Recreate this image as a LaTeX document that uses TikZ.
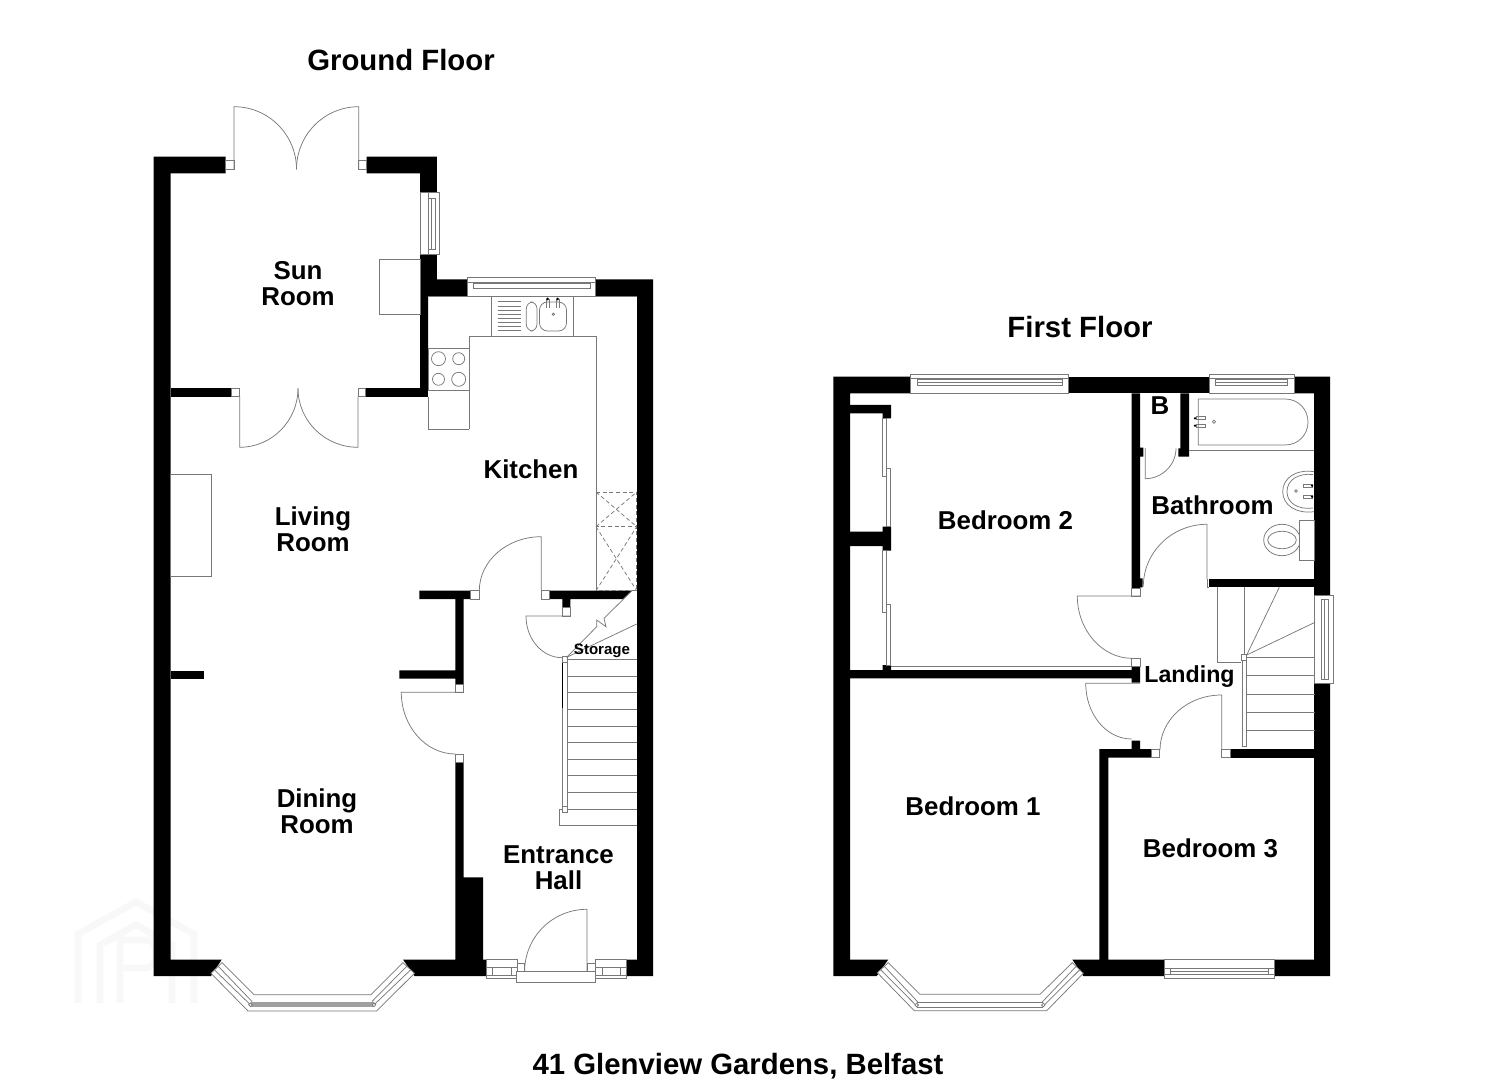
\documentclass[tikz,border=0pt]{standalone}
\usepackage{fontspec}
\setmainfont{Liberation Sans}
\definecolor{fixgray}{RGB}{120,120,120}
\definecolor{markgray}{RGB}{248,248,248}
\tikzset{
  wall/.style={fill=black},
  fitting/.style={draw=fixgray,line width=0.55pt},
  frame/.style={draw=fixgray,line width=0.55pt,fill=white},
  roomlabel/.style={inner sep=0pt,align=center,font=\fontsize{19.4}{19.6}\selectfont\bfseries},
  floorlabel/.style={inner sep=0pt,font=\fontsize{22}{26}\selectfont\bfseries},
  logoline/.style={draw=markgray,line width=5pt}
}
\begin{document}
\begin{tikzpicture}[x=0.75pt,y=0.75pt,yscale=-1,xscale=1]
\path[use as bounding box,fill=white] (0,0) rectangle (1485,1080);

%Watermark
\draw[logoline] (78,1003) -- (78,934) -- (136,902) -- (194,934) -- (194,1003) ;
\draw[logoline] (100,1003) -- (100,945) -- (136,925) -- (172,945) -- (172,1003) ;
\draw[logoline] (120,1003) -- (120,940) -- (145,940) .. controls (160,940) and (160,968) .. (145,968) -- (122,968) ;

%Ground floor walls
\fill[wall] (153.5,156.7) -- (225.5,156.7) -- (225.5,173.3) -- (170.5,173.3) -- (170.5,959.5) -- (221.8,959.5) -- (211,976) -- (153.5,976) -- cycle ;
\fill[wall] (366.5,156.7) -- (436.8,156.7) -- (436.8,192.7) -- (420,192.7) -- (420,173.3) -- (366.5,173.3) -- cycle ;
\fill[wall] (420,254.3) -- (436.8,254.3) -- (436.8,279.3) -- (467,279.3) -- (467,296) -- (428,296) -- (428,388.3) -- (420,388.3) -- cycle ;
\fill[wall] (596,279.3) -- (653,279.3) -- (653,976) -- (626,976) -- (626,959.5) -- (637,959.5) -- (637,296) -- (596,296) -- cycle ;
\fill[wall] (170.5,388.3) -- (231,388.3) -- (231,396.7) -- (170.5,396.7) -- cycle ;
\fill[wall] (365.8,388.3) -- (428,388.3) -- (428,396.7) -- (365.8,396.7) -- cycle ;
\fill[wall] (170.5,671) -- (204,671) -- (204,679) -- (170.5,679) -- cycle ;
\fill[wall] (419.3,590.7) -- (470.7,590.7) -- (470.7,599) -- (463.7,599) -- (463.7,684) -- (455.3,684) -- (455.3,678.7) -- (399.3,678.7) -- (399.3,670.3) -- (455.3,670.3) -- (455.3,599) -- (419.3,599) -- cycle ;
\fill[wall] (549.3,590.7) -- (632,590.7) -- (623,599) -- (570.3,599) -- (570.3,607.7) -- (562.3,607.7) -- (562.3,599) -- (549.3,599) -- cycle ;
\fill[wall] (455.3,762.7) -- (463.7,762.7) -- (463.7,877.3) -- (483,877.3) -- (483,959.5) -- (486.8,959.5) -- (486.8,976) -- (414.5,976) -- (403,959.5) -- (455.3,959.5) -- cycle ;

%First floor walls
\fill[wall] (833.3,376.7) -- (910.7,376.7) -- (910.7,393.3) -- (850,393.3) -- (850,959.5) -- (888.3,959.5) -- (876.7,976) -- (833.3,976) -- cycle ;
\fill[wall] (1068.3,376.7) -- (1209,376.7) -- (1209,393.3) -- (1068.3,393.3) -- cycle ;
\fill[wall] (1294,376.7) -- (1330,376.7) -- (1330,595) -- (1314,595) -- (1314,393.3) -- (1294,393.3) -- cycle ;
\fill[wall] (1314,683.3) -- (1330,683.3) -- (1330,976) -- (1274.3,976) -- (1274.3,959.5) -- (1314,959.5) -- cycle ;
\fill[wall] (850,405) -- (891,405) -- (891,418.3) -- (882.7,418.3) -- (882.7,413.3) -- (850,413.3) -- cycle ;
\fill[wall] (850,531.7) -- (882.7,531.7) -- (882.7,526.7) -- (891,526.7) -- (891,550.7) -- (882.7,550.7) -- (882.7,546) -- (850,546) -- cycle ;
\fill[wall] (882.7,665) -- (891,665) -- (891,670) -- (1131.7,670) -- (1131.7,666.7) -- (1140,666.7) -- (1140,682.7) -- (1131.7,682.7) -- (1131.7,678.3) -- (850,678.3) -- (850,670) -- (882.7,670) -- cycle ;
\fill[wall] (1131.7,393.3) -- (1140,393.3) -- (1140,447.7) -- (1143.3,447.7) -- (1143.3,456.7) -- (1140,456.7) -- (1140,578.3) -- (1142.7,578.3) -- (1142.7,587.3) -- (1140,587.3) -- (1140,588.3) -- (1131.7,588.3) -- cycle ;
\fill[wall] (1180.3,393.3) -- (1189,393.3) -- (1189,456.7) -- (1178.3,456.7) -- (1178.3,448.3) -- (1180.3,448.3) -- cycle ;
\fill[wall] (1209,579) -- (1314,579) -- (1314,587.3) -- (1209,587.3) -- cycle ;
\fill[wall] (1099.3,749) -- (1131.7,749) -- (1131.7,740.7) -- (1140,740.7) -- (1140,749) -- (1151.7,749) -- (1151.7,757.7) -- (1108.3,757.7) -- (1108.3,959.5) -- (1164.3,959.5) -- (1164.3,976) -- (1083.3,976) -- (1072.3,959.5) -- (1099.3,959.5) -- cycle ;
\fill[wall] (1230,749) -- (1314,749) -- (1314,757.7) -- (1230,757.7) -- cycle ;

%Sun room doors and window
\draw[frame] (225.5,160.7) rectangle (234,169.3) ;
\draw[frame] (358.7,160.7) rectangle (366.5,169.3) ;
\draw[fitting] (234,169.3) -- (234,106.7) .. controls (268.5,106.7) and (296.5,134.7) .. (296.5,169.3) ;
\draw[fitting] (358.7,169.3) -- (358.7,106.7) .. controls (324.3,106.7) and (296.5,134.7) .. (296.5,169.3) ;
\draw[frame] (231,388.3) rectangle (239.7,396.7) ;
\draw[frame] (358,388.3) rectangle (365.8,396.7) ;
\draw[fitting] (239.7,396.7) -- (239.7,447.3) .. controls (271.7,447.3) and (298,421) .. (298,388.3) ;
\draw[fitting] (358,396.7) -- (358,447.3) .. controls (325,447.3) and (298,421) .. (298,388.3) ;
\draw[frame] (420,192.7) rectangle (439.8,254.3) ;
\draw[fitting] (428,192.7) -- (428,254.3) ;
\draw[fitting] (428.5,198) rectangle (435,249) ;
\draw[fitting] (431,198) -- (431,249) ;
\draw[fitting] (379,259.3) rectangle (420,314.3) ;

%Kitchen window and units
\draw[frame] (467,277.3) rectangle (595.6,296) ;
\draw[fitting] (467,282) -- (595.6,282) ;
\draw[fitting] (473,283.5) rectangle (590,288.5) ;
\draw[fitting] (428,296) -- (637,296) ;
\draw[fitting] (491,296) rectangle (573.7,336.7) ;
\draw[fitting] (469,429.3) -- (469,336.7) -- (596,336.7) -- (596,590.7) ;
\draw[fitting] (428,348.3) rectangle (469,390) ;
\draw[fitting] (428,396.7) -- (428,429.3) -- (469,429.3) ;
\draw[fitting] (438.5,358.7) circle [radius=7] ;
\draw[fitting] (458.7,358.7) circle [radius=6] ;
\draw[fitting] (438.5,379.3) circle [radius=6] ;
\draw[fitting] (458.7,379.3) circle [radius=7] ;
\draw[fitting] (497.6,301.7) -- (520.6,301.7) (497.6,305.9) -- (520.6,305.9) (497.6,310) -- (520.6,310) (497.6,314.2) -- (520.6,314.2) (497.6,318.4) -- (520.6,318.4) (497.6,322.5) -- (520.6,322.5) (497.6,326.6) -- (520.6,326.6) (497.6,330.7) -- (520.6,330.7) ;
\draw[fitting,rounded corners=5pt] (526.3,302) rectangle (537,331) ;
\draw[fitting,rounded corners=6pt] (539.5,302) rectangle (566.5,331) ;
\draw[fitting] (546,299) -- (546,308) (549,299) -- (549,308) (556,299) -- (556,308) (559,299) -- (559,308) ;
\fill (547.5,299) circle [radius=1.5] (557.5,299) circle [radius=1.5] ;
\draw[fitting] (553.4,314.3) circle [radius=1.2] ;
\draw[fitting,dashed,dash pattern=on 3pt off 2pt] (596,492) rectangle (636.7,526.7) ;
\draw[fitting,dashed,dash pattern=on 3pt off 2pt] (596,526.7) rectangle (636.7,590.7) ;
\draw[fitting,dashed,dash pattern=on 3pt off 2pt] (596,492) -- (636.7,526.7) (596,526.7) -- (636.7,492) (596,526.7) -- (636.7,590.7) (596,590.7) -- (636.7,526.7) ;

%Hall doors
\draw[frame] (470.7,590.7) rectangle (479.3,599) ;
\draw[frame] (541.3,590.7) rectangle (549.3,599) ;
\draw[fitting] (541.3,590.7) -- (541.3,536.7) .. controls (507,536.7) and (479.3,561) .. (479.3,590.7) ;
\draw[frame] (562.3,607.7) rectangle (570.3,616) ;
\draw[fitting] (570.3,616) -- (526,616) .. controls (526,639) and (542,657.7) .. (562.3,657.7) ;
\draw[frame] (455.3,684) rectangle (463.7,692.3) ;
\draw[fitting] (463.7,692.3) -- (401.3,692.3) .. controls (401.3,726) and (425.5,754) .. (455.3,754) ;
\draw[frame] (455.3,754) rectangle (463.7,762.7) ;

%Ground floor stairs
\draw[fitting] (567,659.3) -- (636.7,659.3) (567,676.3) -- (636.7,676.3) (567,692.7) -- (636.7,692.7) (567,709.3) -- (636.7,709.3) (567,726) -- (636.7,726) (567,742.7) -- (636.7,742.7) (567,759.3) -- (636.7,759.3) (567,775.7) -- (636.7,775.7) (567,792.7) -- (636.7,792.7) (567,809) -- (636.7,809) ;
\draw[fitting] (636.7,825.3) -- (559.3,825.3) -- (559.3,809) -- (567,809) ;
\draw[fitting] (562.3,662.3) rectangle (567,806.7) ;
\draw[black,line width=0.9pt] (562.6,662.3) -- (562.6,708) ;
\draw[frame] (562,656.7) rectangle (567.7,662.3) ;
\draw[frame] (562,806.7) rectangle (567.7,812) ;
\draw[fitting] (566.7,657.3) -- (636.7,624) ;
\draw[fitting] (566.7,657.3) -- (596.7,626.7) -- (596.7,620) -- (606,626.7) -- (604,618.3) -- (632,590.7) ;

%Entrance door and front windows
\draw[frame] (486.8,959.3) rectangle (517,978.3) ;
\draw[fitting] (486.8,967.3) -- (517,967.3) (486.8,975) -- (517,975) (492,967.3) -- (492,975) (511,967.3) -- (511,975) ;
\draw[frame] (595.3,959.3) rectangle (626,978.3) ;
\draw[fitting] (595.3,967.3) -- (626,967.3) (595.3,975) -- (626,975) (602,967.3) -- (602,975) (620,967.3) -- (620,975) ;
\draw[frame] (517,963.3) rectangle (524.6,971.7) ;
\draw[frame] (587,963.3) rectangle (595.3,971.7) ;
\draw[frame] (516.5,971.7) rectangle (595.3,982.7) ;
\draw[fitting] (587,971.7) -- (587,909.3) .. controls (552.5,909.3) and (524.6,937) .. (524.6,971.7) ;

%Ground floor bay window
\draw[fitting,fill=white] (211,973.3) -- (248,1011) -- (376.6,1011) -- (414.5,973.3) -- (403,962.7) -- (371,994.7) -- (254,994.7) -- (222,962.7) -- cycle ;
\draw[fitting] (214,969.5) -- (250.5,1004.8) (218,966) -- (252,1001.5) ;
\draw[fitting] (411,969.5) -- (374,1004.8) (407,966) -- (372,1001.5) ;
\fill[fixgray!70] (250.5,1002.3) rectangle (374,1007.3) ;
\draw[frame] (250.5,1004.8) circle [radius=1.8] ;
\draw[frame] (374,1004.8) circle [radius=1.8] ;

%First floor windows
\draw[frame] (910.7,374.7) rectangle (1068.3,393.3) ;
\draw[fitting] (910.7,378.5) -- (1068.3,378.5) (917,379.3) rectangle (1062,385) ;
\draw[fitting] (917,382) -- (1062,382) ;
\draw[frame] (1209,374.7) rectangle (1294,393.3) ;
\draw[fitting] (1209,378.5) -- (1294,378.5) (1215.5,379.3) rectangle (1287.5,385) ;
\draw[fitting] (1215.5,382) -- (1287.5,382) ;
\draw[frame] (1314,595) rectangle (1333.3,683.3) ;
\draw[fitting] (1321.7,599) rectangle (1328.3,679) ;
\draw[fitting] (1324.5,599) -- (1324.5,679) ;
\draw[frame] (1164.3,959.3) rectangle (1274.3,978.3) ;
\draw[fitting] (1164.3,968) -- (1274.3,968) (1164.3,974) -- (1274.3,974) (1170.3,968) -- (1170.3,974) (1268,968) -- (1268,974) ;
\draw[fitting] (1170.3,971) -- (1268,971) ;

%First floor bay window
\draw[fitting,fill=white] (877.3,972.7) -- (914.3,1010.7) -- (1046.7,1010.7) -- (1083.3,973.3) -- (1072.3,962.7) -- (1040,994.3) -- (920,994.3) -- (888.3,962.7) -- cycle ;
\draw[fitting] (880.5,969.5) -- (916.7,1006) (884,966) -- (918.5,1002.7) ;
\draw[fitting] (1080,969.5) -- (1043.3,1006) (1076.5,966) -- (1041.5,1002.7) ;
\draw[fitting] (916.7,1002.7) -- (1043.3,1002.7) (916.7,1007.3) -- (1043.3,1007.3) ;
\draw[frame] (916.7,1005) circle [radius=1.8] ;
\draw[frame] (1043.3,1005) circle [radius=1.8] ;

%Wardrobes
\draw[frame] (882.3,418.3) rectangle (886.7,476.7) ;
\draw[frame] (886.7,468.3) rectangle (890.7,526.7) ;
\draw[frame] (882.3,550.7) rectangle (886.7,612.3) ;
\draw[frame] (886.7,604) rectangle (890.7,665) ;
\draw[fitting] (891,666.7) -- (1131.7,666.7) ;

%Bathroom fittings
\draw[fitting] (1189,450.3) -- (1314,450.3) ;
\draw[fitting] (1198.3,399) -- (1285,399) .. controls (1299,399) and (1308,410) .. (1308,422) .. controls (1308,434) and (1299,445) .. (1285,445) -- (1198.3,445) -- cycle ;
\draw[fitting] (1196,416.8) rectangle (1205,419.8) (1196,424.2) rectangle (1205,427.2) ;
\fill (1195,418.3) circle [radius=1.3] (1195,425.7) circle [radius=1.3] ;
\draw[fitting] (1214,421.7) circle [radius=1.6] ;
\draw[fitting] (1314,471.7) .. controls (1296,469) and (1282.7,478) .. (1282.7,491.7) .. controls (1282.7,505) and (1296,514) .. (1314,511.7) ;
\draw[fitting] (1313,474.5) .. controls (1298,473) and (1287,480) .. (1287,491.7) .. controls (1287,503) and (1298,510) .. (1313,508) ;
\draw[fitting] (1303,484) rectangle (1312,487) (1303,495) rectangle (1312,498) ;
\fill (1312,485.7) circle [radius=1.3] (1312,496.7) circle [radius=1.3] ;
\draw[fitting] (1296,491) circle [radius=1.3] ;
\draw[fitting,fill=white] (1282,540) ellipse [x radius=18.3,y radius=15.7] ;
\draw[fitting] (1282,540) ellipse [x radius=14.3,y radius=8.7] ;
\draw[frame] (1299,520) rectangle (1314,560.7) ;

%First floor doors
\draw[fitting] (1145.3,448) -- (1145.3,478.7) .. controls (1162,478.7) and (1176,465) .. (1176,448.3) ;
\draw[fitting] (1207,579) -- (1207,524.3) .. controls (1172,524.3) and (1143.3,552) .. (1143.3,586.7) ;
\draw[fitting] (1207,579) -- (1207,587.3) -- (1209,587.3) ;
\draw[frame] (1131.7,588.3) rectangle (1140,596) ;
\draw[fitting] (1140,596) -- (1077.3,596) .. controls (1077.3,630) and (1102,658.3) .. (1131.7,658.3) ;
\draw[frame] (1131.7,658.3) rectangle (1140,666.7) ;
\draw[fitting] (1140,683.3) -- (1085.7,683.3) .. controls (1085.7,714) and (1106,739) .. (1131.7,739) ;
\draw[frame] (1151.7,749) rectangle (1159.3,757.7) ;
\draw[frame] (1221.7,749) rectangle (1230,757.7) ;
\draw[fitting] (1221.7,749) -- (1221.7,695) .. controls (1187,695) and (1160,720) .. (1160,750) ;

%First floor stairs
\draw[fitting] (1217.3,587.3) -- (1217.3,662.7) -- (1241.3,662.7) ;
\draw[fitting] (1244.3,587.3) -- (1244.3,654.3) ;
\draw[fitting] (1246.7,655) -- (1279.3,587.3) ;
\draw[fitting] (1246.7,655) -- (1315,622.3) ;
\draw[fitting] (1246.7,657.3) -- (1315,657.3) (1246.7,675.7) -- (1315,675.7) (1246.7,694) -- (1315,694) (1246.7,712.3) -- (1315,712.3) (1246.7,730.7) -- (1315,730.7) ;
\draw[fitting] (1242.3,660) rectangle (1246,746.7) ;
\draw[frame] (1241.3,654.3) rectangle (1246.7,660) ;

% Text Node
\node[floorlabel] (groundtitle) at (401,60.5) {Ground Floor};
\node[floorlabel] (firsttitle) at (1080,327.5) {First Floor};
\node[floorlabel] (addresstitle) at (738,1066) {41 Glenview Gardens, Belfast};
% Text Node
\node[roomlabel] (sunroom) at (298,284) {Sun\\Room};
\node[roomlabel] (livingroom) at (313,529) {Living\\Room};
\node[roomlabel] (diningroom) at (317,811) {Dining\\Room};
\node[roomlabel] (kitchen) at (531,469) {Kitchen};
\node[roomlabel] (entrancehall) at (558.5,868) {Entrance\\Hall};
\node[roomlabel,font=\fontsize{11.3}{13}\selectfont\bfseries] (storage) at (602,650.5) {Storage};
% Text Node
\node[roomlabel] (bedroomtwo) at (1005.5,520.5) {Bedroom 2};
\node[roomlabel] (bedroomone) at (973,806) {Bedroom 1};
\node[roomlabel] (bedroomthree) at (1210.5,848.5) {Bedroom 3};
\node[roomlabel] (bathroom) at (1212.5,505) {Bathroom};
\node[roomlabel,font=\fontsize{17.4}{19}\selectfont\bfseries] (landing) at (1189.5,676.5) {Landing};
\node[roomlabel] (boiler) at (1160,405.5) {B};

%Living room hearth
\draw[fitting] (170.5,474) rectangle (211,576) ;

\end{tikzpicture}
\end{document}
